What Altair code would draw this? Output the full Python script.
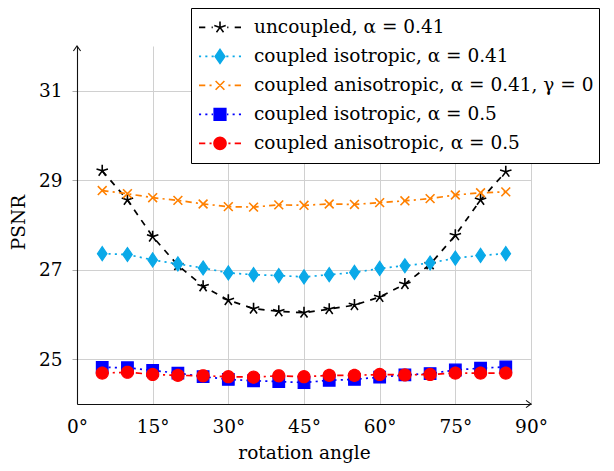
import math
import altair as alt
import pandas as pd

# ---------------- data ----------------
angles = [5, 10, 15, 20, 25, 30, 35, 40, 45, 50, 55, 60, 65, 70, 75, 80, 85]
uncoupled_041 = [29.21, 28.56, 27.74, 27.10, 26.63, 26.32, 26.13, 26.07, 26.04,
                 26.12, 26.21, 26.39, 26.68, 27.12, 27.77, 28.56, 29.19]
iso_041 = [27.36, 27.34, 27.22, 27.13, 27.04, 26.93, 26.89, 26.87, 26.84,
           26.89, 26.94, 27.03, 27.09, 27.15, 27.26, 27.32, 27.36]
aniso_041 = [28.77, 28.70, 28.61, 28.55, 28.47, 28.41, 28.40, 28.45, 28.44,
             28.47, 28.46, 28.50, 28.54, 28.59, 28.67, 28.72, 28.74]
iso_05 = [24.82, 24.81, 24.75, 24.69, 24.61, 24.55, 24.52, 24.50, 24.48,
          24.53, 24.55, 24.60, 24.65, 24.68, 24.76, 24.80, 24.83]
aniso_05 = [24.69, 24.71, 24.66, 24.64, 24.63, 24.61, 24.60, 24.63, 24.61,
            24.64, 24.64, 24.66, 24.65, 24.66, 24.69, 24.69, 24.69]

series_names = [
    "uncoupled, α = 0.41",
    "coupled isotropic, α = 0.41",
    "coupled anisotropic, α = 0.41, γ = 0",
    "coupled isotropic, α = 0.5",
    "coupled anisotropic, α = 0.5",
]
series_values = [uncoupled_041, iso_041, aniso_041, iso_05, aniso_05]

x_ticks = [0, 15, 30, 45, 60, 75, 90]
y_ticks = [25, 27, 29, 31]
x_domain = [0, 90]
y_domain = [24, 32]

# ---------------- styles ----------------
series_colors = ["#000000", "#0aa9e8", "#ff8000", "#0000ff", "#ff0000"]
DASHED = [6.3, 6.3]
DOTTED = [2.1, 4.2]
DASHDOT = [6.3, 4.2, 2.1, 4.2]
series_dash = [DASHED, DOTTED, DASHDOT, DOTTED, DASHDOT]
series_marker = ["star", "diamond", "x", "square", "circle"]
marker_half = {"star": 6.0, "diamond": 4.8, "x": 4.4, "square": 5.8, "circle": 6.0}

FONT = "DejaVu Serif"
FS = 18.5
GRID = "#d0d0d0"


def f(v):
    return f"{v:.4f}"


def marker_path(kind, s):
    if kind == "star":
        R = marker_half["star"]
        parts = []
        for k in range(5):
            a = math.radians(-90 + 72 * k)
            parts.append(f"M0,0L{f(R * math.cos(a) / s)},{f(R * math.sin(a) / s)}")
        return "".join(parts)
    if kind == "diamond":
        hw, hh = 4.8 / s, 7.0 / s
        return f"M0,{f(-hh)}L{f(hw)},0L0,{f(hh)}L{f(-hw)},0Z"
    if kind == "x":
        h = marker_half["x"] / s
        return f"M{f(-h)},{f(-h)}L{f(h)},{f(h)}M{f(-h)},{f(h)}L{f(h)},{f(-h)}"
    if kind == "square":
        h = marker_half["square"] / s
        return f"M{f(-h)},{f(-h)}L{f(h)},{f(-h)}L{f(h)},{f(h)}L{f(-h)},{f(h)}Z"
    # circle
    r = marker_half["circle"] / s
    pts = []
    for k in range(36):
        a = 2 * math.pi * k / 36
        pts.append(f"{f(r * math.cos(a))},{f(r * math.sin(a))}")
    return "M" + "L".join(pts) + "Z"


def dash_path(pattern, half_len, gap, s):
    segs = []
    pos = -half_len
    i = 0
    while pos < -gap:
        length = pattern[i % len(pattern)]
        if i % 2 == 0:
            segs.append((pos, min(pos + length, -gap)))
        pos += length
        i += 1
    segs = segs + [(-b, -a) for (a, b) in segs]
    return "".join(f"M{f(a / s)},0L{f(b / s)},0" for a, b in segs)


MARK_R = 7.0      # plot markers: size 196 -> r = 7 px
LEG_R = 21.0      # legend symbols: size 1764 -> r = 21 px
legend_paths = [
    dash_path(d, 21, marker_half[m] + 1.2, LEG_R) + marker_path(m, LEG_R)
    for d, m in zip(series_dash, series_marker)
]

rows = []
for name, vals in zip(series_names, series_values):
    for a, v in zip(angles, vals):
        rows.append({"angle": a, "psnr": v, "series": name})
df = pd.DataFrame(rows)

x_axis = alt.Axis(
    values=x_ticks, labelExpr="datum.value + '°'", title="rotation angle",
    grid=True, gridColor=GRID, gridWidth=1, tickSize=0, labelPadding=13,
    labelFlush=False, domainColor="#111111", domainWidth=1.1,
    titleY=54.5, titleBaseline="alphabetic",
)
y_axis = alt.Axis(
    values=y_ticks, title="PSNR", grid=True, gridColor=GRID, gridWidth=1,
    tickSize=5, tickColor="#aaaaaa", labelPadding=10,
    domainColor="#111111", domainWidth=1.1,
    titleX=-52.5, titleY=176, titleBaseline="alphabetic",
)
x_enc = alt.X("angle:Q", scale=alt.Scale(domain=x_domain, nice=False, zero=False), axis=x_axis)
y_enc = alt.Y("psnr:Q", scale=alt.Scale(domain=y_domain, nice=False, zero=False), axis=y_axis)

base = alt.Chart(df)
layers = []
for name, c, d, m in zip(series_names, series_colors, series_dash, series_marker):
    sub = base.transform_filter(alt.datum.series == name)
    layers.append(sub.mark_line(color=c, strokeDash=d, strokeWidth=1.7).encode(x=x_enc, y=y_enc))
    sw = 1.6 if m in ("star", "x") else 1.2
    layers.append(
        sub.mark_point(shape=marker_path(m, MARK_R), size=196, fill=c, stroke=c,
                       strokeWidth=sw, opacity=1, filled=True).encode(x=x_enc, y=y_enc)
    )

legend = alt.Legend(
    title=None, orient="none", legendX=114, legendY=-38, direction="vertical",
    symbolSize=1764, symbolStrokeWidth=1.6, symbolOffset=2, labelOffset=12,
    clipHeight=28.8, rowPadding=0, padding=5,
    strokeColor="#000000", fillColor="#ffffff",
    labelFont=FONT, labelFontSize=FS, labelColor="#000000", labelLimit=500,
)
carrier = base.transform_filter("false").mark_point(opacity=1, strokeWidth=1.6).encode(
    x=x_enc, y=y_enc,
    fill=alt.Fill("series:N", scale=alt.Scale(domain=series_names, range=series_colors), legend=legend),
    stroke=alt.Stroke("series:N", scale=alt.Scale(domain=series_names, range=series_colors), legend=legend),
    shape=alt.Shape("series:N", scale=alt.Scale(domain=series_names, range=legend_paths), legend=legend),
)
layers.append(carrier)

arrow_x = alt.Chart(pd.DataFrame({"angle": [x_domain[1]], "psnr": [y_domain[0]]})).mark_point(
    shape="M-1,-0.72L0,0L-1,0.72", size=100, filled=False, stroke="#111111",
    strokeWidth=1.1, opacity=1
).encode(x=x_enc, y=y_enc)
arrow_y = alt.Chart(pd.DataFrame({"angle": [x_domain[0]], "psnr": [y_domain[1]]})).mark_point(
    shape="M-0.72,1L0,0L0.72,1", size=100, filled=False, stroke="#111111",
    strokeWidth=1.1, opacity=1
).encode(x=x_enc, y=y_enc)
layers += [arrow_x, arrow_y]

chart = alt.layer(*layers).properties(
    width=454, height=358,
    autosize=alt.AutoSizeParams(type="none"),
    padding={"left": 69, "top": 38, "right": 75, "bottom": 59},
).configure_view(stroke=None).configure_axis(
    labelFont=FONT, labelFontSize=FS, labelColor="#000000",
    titleFont=FONT, titleFontSize=FS, titleColor="#000000", titleFontWeight="normal",
)

chart.save("out.html", embed_options={"renderer": "svg", "actions": False})
